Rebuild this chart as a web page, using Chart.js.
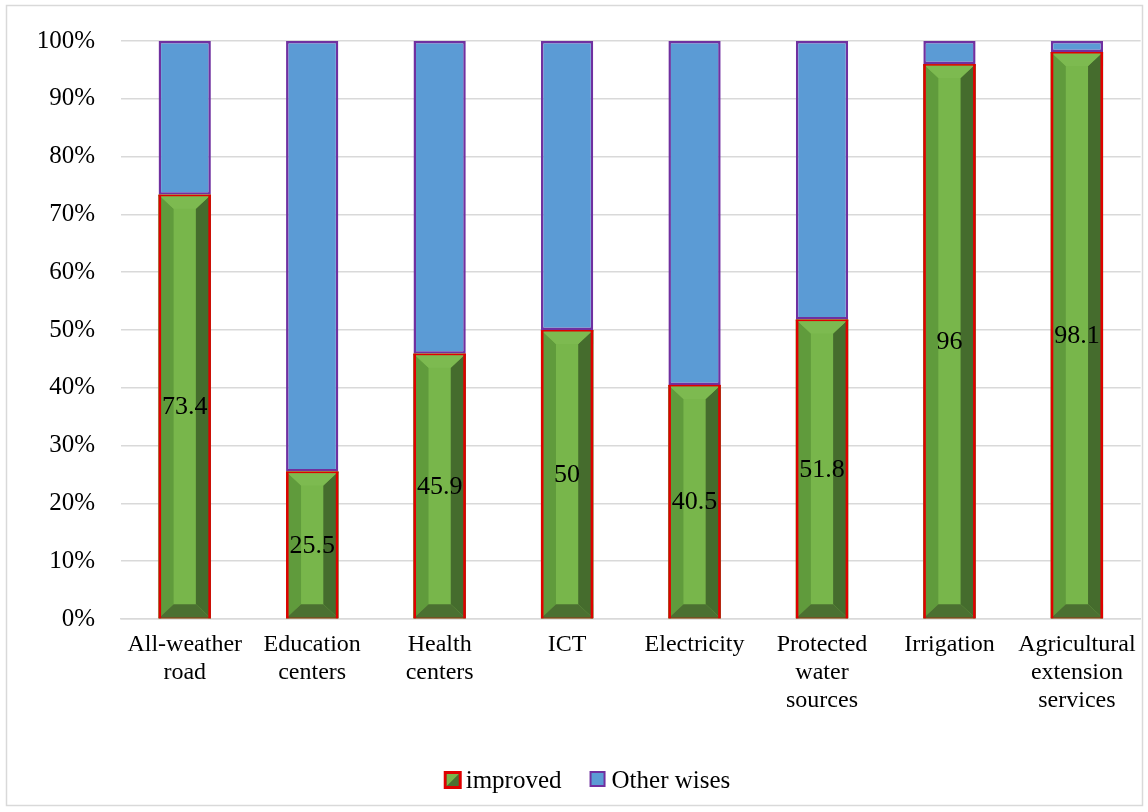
<!DOCTYPE html>
<html><head><meta charset="utf-8">
<script src="https://cdn.jsdelivr.net/npm/chart.js@4"></script>
<style>html,body{margin:0;padding:0;background:#fff}#wrap{width:1148px;height:812px;position:relative}</style>
</head><body><div id="wrap"><canvas id="c" width="1148" height="812"></canvas></div>
<script>
const categories = [["All-weather","road"],["Education","centers"],["Health","centers"],["ICT"],["Electricity"],["Protected","water","sources"],["Irrigation"],["Agricultural","extension","services"]];
const improved = [73.4, 25.5, 45.9, 50, 40.5, 51.8, 96, 98.1];
const otherWises = [26.6, 74.5, 54.1, 50, 59.5, 48.2, 4, 1.9];
const yTicks = [0,10,20,30,40,50,60,70,80,90,100];
const seriesNames = ['improved', 'Other wises'];

const FONT = "'Liberation Serif','Times New Roman',serif";
const C_CENTER = '#78b64b', C_TOP = '#7dba50', C_LEFT = '#609b3c', C_RIGHT = '#456c2d', C_BOTTOM = '#4b7031';
const C_RED = '#e00000', C_BLUE = '#5b9bd5', C_PURPLE = '#7030a0';

const bevelPlugin = {
  id: 'bevel',
  beforeDraw(chart){
    const ctx = chart.ctx;
    ctx.save();
    ctx.fillStyle = '#fff'; ctx.fillRect(0,0,chart.width,chart.height);
    ctx.strokeStyle = '#d9d9d9'; ctx.lineWidth = 1.5;
    ctx.strokeRect(6.5, 5.5, 1136, 800);
    ctx.restore();
  },
  afterDatasetDraw(chart, args){
    if (args.index !== 0) return;
    const ctx = chart.ctx;
    const meta = chart.getDatasetMeta(0);
    meta.data.forEach(el => {
      const p = el.getProps(['x','y','base','width'], true);
      const l = p.x - p.width/2, r = p.x + p.width/2, t = Math.min(p.y, p.base), b = Math.max(p.y, p.base);
      const bw = Math.min(15, (r-l)/2 - 2), bh = Math.min(14, (b-t)/2 - 1);
      const il = l + bw, ir = r - bw, it = t + bh, ib = b - bh;
      const poly = (pts, col) => { ctx.fillStyle = col; ctx.beginPath(); ctx.moveTo(pts[0][0], pts[0][1]); for (let i=1;i<pts.length;i++) ctx.lineTo(pts[i][0], pts[i][1]); ctx.closePath(); ctx.fill(); };
      ctx.save();
      poly([[l,t],[r,t],[r,b],[l,b]], C_CENTER);
      poly([[l,t],[il,it],[il,ib],[l,b]], C_LEFT);
      poly([[r,t],[ir,it],[ir,ib],[r,b]], C_RIGHT);
      poly([[l,b],[il,ib],[ir,ib],[r,b]], C_BOTTOM);
      poly([[l,t],[r,t],[ir,it],[il,it]], C_TOP);
      ctx.fillStyle = C_RED;
      ctx.fillRect(l, t, 2.5, b - t);
      ctx.fillRect(r - 2.5, t, 2.5, b - t);
      ctx.fillRect(l, t, r - l, 1.5);
      ctx.fillStyle = 'rgba(224,0,0,0.35)';
      ctx.fillRect(l, b - 1, r - l, 1.5);
      ctx.restore();
    });
  },
  afterDatasetsDraw(chart){
    const ctx = chart.ctx;
    const meta = chart.getDatasetMeta(0);
    ctx.save();
    ctx.fillStyle = '#000'; ctx.font = '26px ' + FONT; ctx.textAlign = 'center'; ctx.textBaseline = 'middle';
    meta.data.forEach((el, i) => {
      const p = el.getProps(['x','y','base'], true);
      ctx.fillText(String(improved[i]), p.x, (p.y + p.base)/2 + 1);
    });
    ctx.restore();
  },
  afterDraw(chart){
    const ctx = chart.ctx;
    ctx.save();
    ctx.font = '25px ' + FONT; ctx.textBaseline = 'middle'; ctx.fillStyle = '#000';
    const icon = 18, gap = 4, itemGap = 28, cy = 780;
    const widths = seriesNames.map(n => icon + gap + ctx.measureText(n).width);
    const total = widths[0] + itemGap + widths[1];
    let x = 587 - total/2;
    seriesNames.forEach((n, i) => {
      const y0 = cy - icon/2;
      if (i === 0){
        ctx.fillStyle = C_RED; ctx.fillRect(x, y0, icon, icon);
        ctx.fillStyle = C_BOTTOM; ctx.fillRect(x+3, y0+3, icon-6, icon-6);
        ctx.fillStyle = C_CENTER; ctx.beginPath(); ctx.moveTo(x+3, y0+3); ctx.lineTo(x+icon-3, y0+3); ctx.lineTo(x+3, y0+icon-3); ctx.closePath(); ctx.fill();
      } else {
        ctx.fillStyle = C_PURPLE; ctx.fillRect(x, y0, icon-2, icon-2);
        ctx.fillStyle = C_BLUE; ctx.fillRect(x+2, y0+2, icon-6, icon-6);
      }
      ctx.fillStyle = '#000';
      ctx.fillText(n, x + icon + gap, cy + 1);
      x += widths[i] + itemGap;
    });
    ctx.restore();
  }
};

new Chart(document.getElementById('c'), {
  type: 'bar',
  data: {
    labels: categories,
    datasets: [
      { label: seriesNames[0], data: improved, backgroundColor: C_CENTER, borderWidth: 0, categoryPercentage: 1, barPercentage: 0.41 },
      { label: seriesNames[1], data: otherWises, backgroundColor: C_BLUE, borderColor: C_PURPLE, borderWidth: 2.5, borderSkipped: false, categoryPercentage: 1, barPercentage: 0.41 }
    ]
  },
  options: {
    responsive: false, animation: false,
    layout: { padding: { left: 0, right: 7, top: 38, bottom: 0 } },
    scales: {
      x: {
        stacked: true,
        grid: { display: false, drawTicks: false },
        border: { display: true, color: '#d9d9d9', width: 1.5 },
        ticks: { color: '#000', font: { family: FONT, size: 24, lineHeight: 1.17 }, padding: 12, maxRotation: 0, autoSkip: false },
        afterFit(s){ s.height = 193; }
      },
      y: {
        stacked: true, min: 0, max: 100,
        afterBuildTicks(s){ s.ticks = yTicks.map(v => ({ value: v })); },
        grid: { color: '#d9d9d9', lineWidth: 1.5, drawTicks: false },
        border: { display: false },
        ticks: { color: '#000', font: { family: FONT, size: 25 }, padding: 26, callback: v => v + '%' },
        afterFit(s){ s.width = 121; }
      }
    },
    plugins: {
      tooltip: { enabled: false },
      legend: { display: false }
    }
  },
  plugins: [bevelPlugin]
});
</script></body></html>
